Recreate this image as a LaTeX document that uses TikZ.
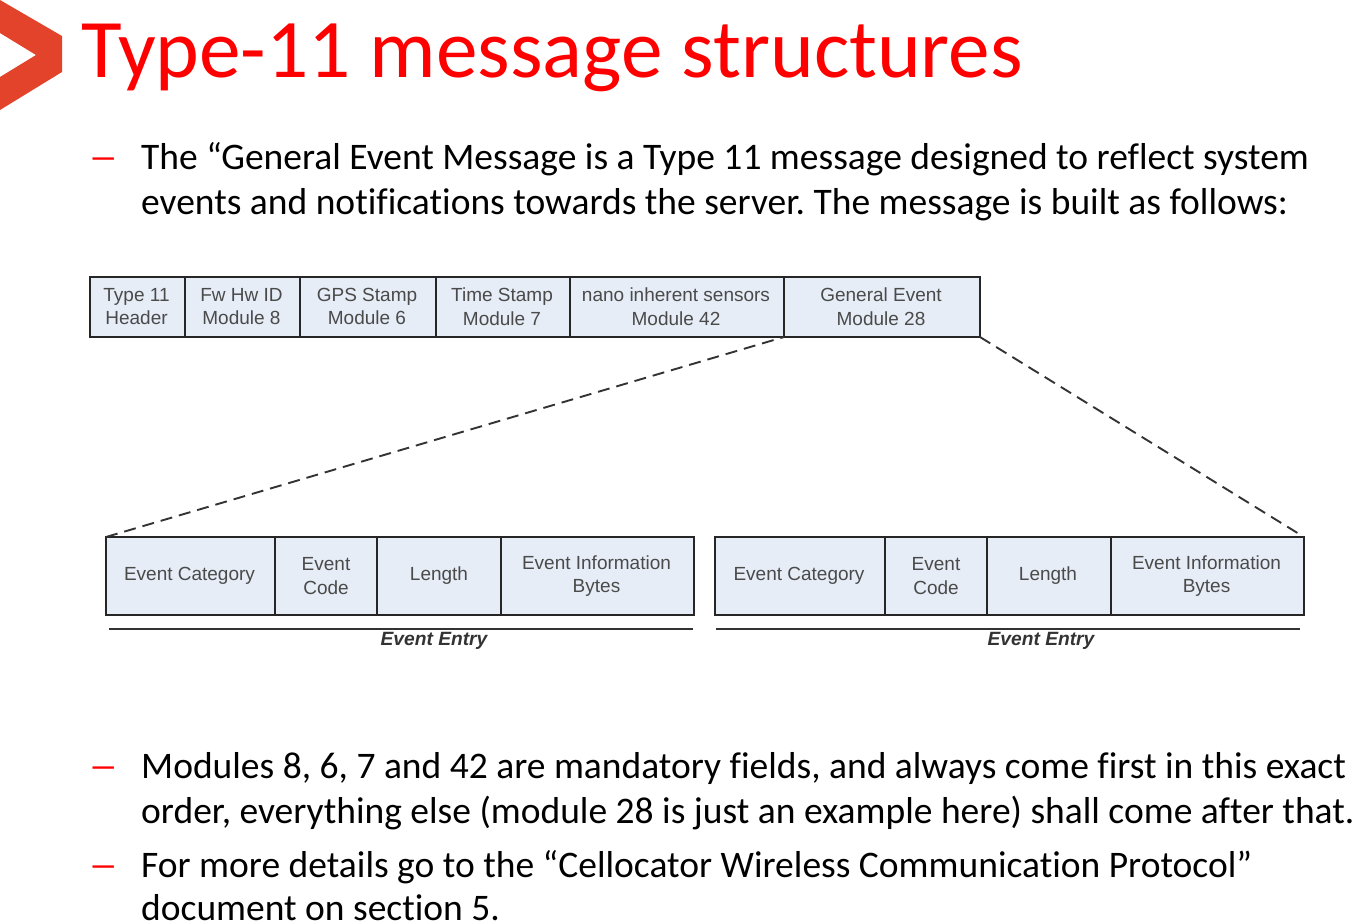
\documentclass[tikz,border=0pt]{standalone}
\usepackage{fontspec}
\setmainfont[Ligatures=CommonOff]{Carlito}
\newfontfamily\arialf{Liberation Sans}
\definecolor{cellfill}{HTML}{E6EDF7}
\definecolor{celltext}{HTML}{4A4A4A}
\definecolor{logored}{HTML}{E2432A}
\tikzset{
  cell/.style={draw=black!85,line width=1.2pt,fill=cellfill,anchor=north west,inner sep=0pt,outer sep=0pt,align=center,text=celltext,font=\arialf\fontsize{19}{23.5}\selectfont},
  topcell/.style={cell,minimum height=60pt},
  lowcell/.style={cell,minimum height=78pt},
  bodytext/.style={anchor=base west,inner sep=0pt,font=\frenchspacing\fontsize{37.5}{44}\selectfont,text=black},
  bullet/.style={anchor=base west,inner sep=0pt,font=\fontsize{37.5}{44}\selectfont,text=red,xscale=1.6},
  titletext/.style={anchor=base west,inner sep=0pt,font=\fontsize{83.3}{90}\selectfont,text=red},
  entrylabel/.style={inner sep=0pt,text=black!80,font=\arialf\fontsize{19.2}{22}\selectfont\bfseries\itshape},
  zoomline/.style={draw=black!80,line width=1.9pt,dash pattern=on 12pt off 7pt},
  entryline/.style={draw=black!80,line width=1.2pt}
}
\begin{document}
\begin{tikzpicture}[x=1pt,y=-1pt]
\useasboundingbox (0,0) rectangle (1353,922);
\fill[logored] (0,0) -- (62,36) -- (62,72) -- (0,110) -- (0,77) -- (36,55) -- (0,33) -- cycle;
\node[titletext] (title) at (81,77) {Type-11 message structures};
\node[bullet] (d1) at (88,169) {–};
\node[bodytext] (l1) at (141,169) {The “General Event Message is a Type 11 message designed to reflect system};
\node[bodytext] (l2) at (141,214) {events and notifications towards the server. The message is built as follows:};
\node[topcell,minimum width=95pt] (a1) at (90,277) {\raisebox{1pt}{Type 11\kern2pt}\\\raisebox{1pt}{Header\kern2pt}};
\node[topcell,minimum width=115pt] (a2) at (185,277) {\raisebox{1pt}{Fw Hw ID\kern2pt}\\\raisebox{1pt}{Module 8\kern2pt}};
\node[topcell,minimum width=136pt] (a3) at (300,277) {\raisebox{1pt}{GPS Stamp\kern2pt}\\\raisebox{1pt}{Module 6\kern2pt}};
\node[topcell,minimum width=134pt] (a4) at (436,277) {\raisebox{1pt}{Time Stamp\kern2pt}\\\raisebox{1pt}{Module 7\kern2pt}};
\node[topcell,minimum width=214pt] (a5) at (570,277) {\raisebox{1pt}{nano inherent sensors\kern2pt}\\\raisebox{1pt}{Module 42\kern2pt}};
\node[topcell,minimum width=196pt] (a6) at (784,277) {\raisebox{1pt}{General Event\kern2pt}\\\raisebox{1pt}{Module 28\kern2pt}};
\node[lowcell,minimum width=169pt] (b1) at (106,537) {\raisebox{-1pt}{Event Category\kern2pt}};
\node[lowcell,minimum width=102pt] (b2) at (275,537) {Event\\Code};
\node[lowcell,minimum width=124pt] (b3) at (377,537) {\raisebox{-1pt}{Length}};
\node[lowcell,minimum width=193pt] (b4) at (501,537) {Event Information\kern2pt\\Bytes\kern2pt};
\node[lowcell,minimum width=170pt] (c1) at (715,537) {\raisebox{-1pt}{Event Category\kern2pt}};
\node[lowcell,minimum width=102pt] (c2) at (885,537) {Event\\Code};
\node[lowcell,minimum width=124pt] (c3) at (987,537) {\raisebox{-1pt}{Length\kern2pt}};
\node[lowcell,minimum width=193pt] (c4) at (1111,537) {Event Information\kern2pt\\Bytes\kern2pt};
\draw[zoomline] (b1.north west) -- (a6.south west);
\draw[zoomline] (a6.south east) -- (c4.north east);
\coordinate (u1a) at (109,629);
\coordinate (u1b) at (693,629);
\coordinate (u2a) at (716,629);
\coordinate (u2b) at (1300,629);
\draw[entryline] (u1a) -- (u1b);
\draw[entryline] (u2a) -- (u2b);
\node[entrylabel] (e1) at (434,641) {Event Entry};
\node[entrylabel] (e2) at (1041,641) {Event Entry};
\node[bullet] (d2) at (88,778) {–};
\node[bodytext] (l3) at (141,778) {Modules 8, 6, 7 and 42 are mandatory fields, and always come first in this exact};
\node[bodytext] (l4) at (141,823) {order, everything else (module 28 is just an example here) shall come after that.};
\node[bullet] (d3) at (88,877) {–};
\node[bodytext] (l5) at (141,877) {For more details go to the “Cellocator Wireless Communication Protocol”};
\node[bodytext] (l6) at (141,920) {document on section 5.};
\end{tikzpicture}
\end{document}
